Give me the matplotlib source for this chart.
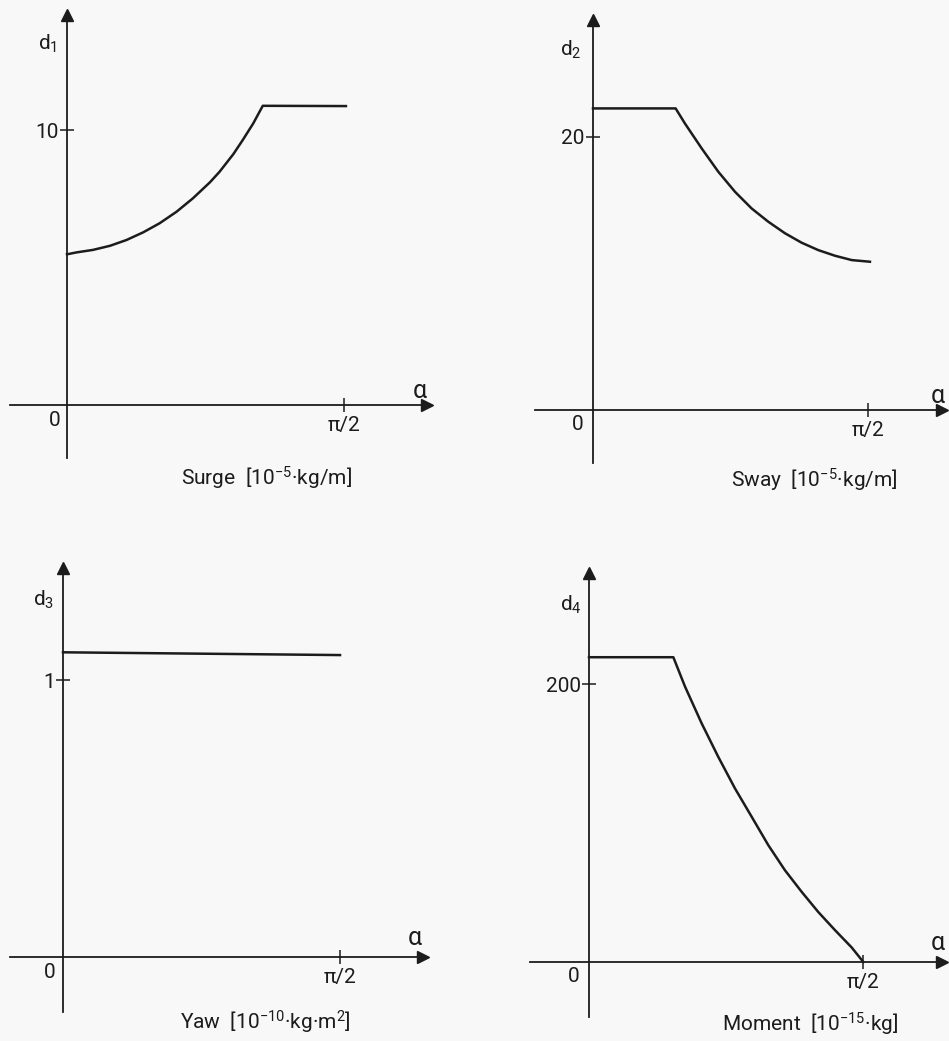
import numpy as np
import matplotlib
matplotlib.use("Agg")
import matplotlib.pyplot as plt

plt.rcParams['font.family'] = ['Roboto', 'DejaVu Sans']
plt.rcParams['mathtext.default'] = 'regular'

# values (alpha in rad)
surge_alpha = [0, 0.055, 0.147, 0.244, 0.337, 0.432, 0.525, 0.621, 0.714,
               0.810, 0.864, 0.942, 0.996, 1.055, 1.109, 1.580]
surge_d = [5.48, 5.55, 5.64, 5.79, 6.00, 6.28, 6.61, 7.03, 7.52,
           8.10, 8.48, 9.12, 9.64, 10.24, 10.88, 10.87]

sway_alpha = [0, 0.472, 0.525, 0.621, 0.716, 0.811, 0.906, 1.001, 1.097,
              1.192, 1.287, 1.382, 1.478, 1.582]
sway_d = [22.07, 22.07, 20.97, 19.14, 17.43, 15.97, 14.75, 13.78, 12.93,
          12.24, 11.70, 11.29, 10.97, 10.85]

yaw_alpha = [0, 1.571]
yaw_d = [1.10, 1.09]

moment_alpha = [0, 0.483, 0.550, 0.645, 0.740, 0.836, 0.932, 1.027, 1.122,
                1.218, 1.313, 1.409, 1.504, 1.571]
moment_d = [219.5, 219.5, 198.3, 171.9, 147.8, 125.0, 104.5, 84.1, 66.1,
            50.5, 36.0, 22.9, 10.5, 0]

ytick_vals = [10, 20, 1, 200]
ytick_labels = ['10', '20', '1', '200']
xtick_label = 'π/2'
d_labels = ['d$_1$', 'd$_2$', 'd$_3$', 'd$_4$']
titles = ['Surge  [10$^{-5}$·kg/m]',
          'Sway  [10$^{-5}$·kg/m]',
          'Yaw  [10$^{-10}$·kg·m$^{2}$]',
          'Moment  [10$^{-15}$·kg]']

W, H = 949, 1041
ink = '#1c1c1c'
bg = '#f8f8f8'
fs = 15

fig = plt.figure(figsize=(W / 100, H / 100), dpi=100)
fig.patch.set_facecolor(bg)


def ftext(x, y, s, size=fs, **kw):
    # text placed by pixel position on the page
    fig.text(x / W, 1 - y / H, s, color=ink, fontsize=size, **kw)


def panel(box, origin, xref, yref, ytick, ylab):
    l, t, r, b = box
    ax = fig.add_axes([l / W, 1 - b / H, (r - l) / W, (b - t) / H])
    sx = (xref[0] - origin[0]) / xref[1]
    sy = (origin[1] - yref[0]) / yref[1]
    ax.set_xlim(-(origin[0] - l) / sx, (r - origin[0]) / sx)
    ax.set_ylim(-(b - origin[1]) / sy, (origin[1] - t) / sy)
    ax.patch.set_visible(False)
    ax.spines['top'].set_visible(False)
    ax.spines['right'].set_visible(False)
    ax.spines['left'].set_position(('data', 0))
    ax.spines['bottom'].set_position(('data', 0))
    for s in ['left', 'bottom']:
        ax.spines[s].set_color(ink)
        ax.spines[s].set_linewidth(1.3)
    ax.set_xticks([np.pi / 2])
    ax.set_xticklabels([xtick_label])
    ax.set_yticks([ytick])
    ax.set_yticklabels([ylab])
    ax.tick_params(direction='inout', length=10, width=1.1, colors=ink,
                   labelsize=fs)
    ax.tick_params(axis='x', pad=3)
    ax.tick_params(axis='y', pad=1)
    # arrow heads
    ax.plot(1, 0, '>', color=ink, ms=9, transform=ax.get_yaxis_transform(),
            clip_on=False)
    ax.plot(0, 1, '^', color=ink, ms=9, transform=ax.get_xaxis_transform(),
            clip_on=False)
    return ax


ax1 = panel((10, 15, 427, 458), (67, 405), (344.3, np.pi / 2), (130, 10),
            ytick_vals[0], ytick_labels[0])
ax1.plot(surge_alpha, surge_d, color=ink, lw=1.8)

ax2 = panel((535, 20, 942, 463), (593, 410), (868, np.pi / 2), (136.7, 20),
            ytick_vals[1], ytick_labels[1])
ax2.plot(sway_alpha, sway_d, color=ink, lw=1.8)

ax3 = panel((10, 568, 423, 1012), (63, 957), (340, np.pi / 2), (680, 1),
            ytick_vals[2], ytick_labels[2])
ax3.plot(yaw_alpha, yaw_d, color=ink, lw=1.8)

ax4 = panel((530, 573, 942, 1017), (589, 962), (863.3, np.pi / 2), (684.3, 200),
            ytick_vals[3], ytick_labels[3])
ax4.plot(moment_alpha, moment_d, color=ink, lw=1.8)

# axis names, origins and captions
ftext(48, 44, d_labels[0], ha='center', va='center')
ftext(571, 50, d_labels[1], ha='center', va='center')
ftext(44, 600, d_labels[2], ha='center', va='center')
ftext(571, 605, d_labels[3], ha='center', va='center')

ftext(55, 421, '0', ha='center', va='center')
ftext(578, 425, '0', ha='center', va='center')
ftext(50, 973, '0', ha='center', va='center')
ftext(574, 977, '0', ha='center', va='center')

ftext(420, 391, 'α', size=18, ha='center', va='center')
ftext(938, 396, 'α', size=18, ha='center', va='center')
ftext(415, 938, 'α', size=18, ha='center', va='center')
ftext(938, 943, 'α', size=18, ha='center', va='center')

ftext(266, 478, titles[0], ha='center', va='center')
ftext(814, 480, titles[1], ha='center', va='center')
ftext(265, 1022, titles[2], ha='center', va='center')
ftext(810, 1024, titles[3], ha='center', va='center')

fig.savefig('out.png', dpi=100, facecolor=bg)
